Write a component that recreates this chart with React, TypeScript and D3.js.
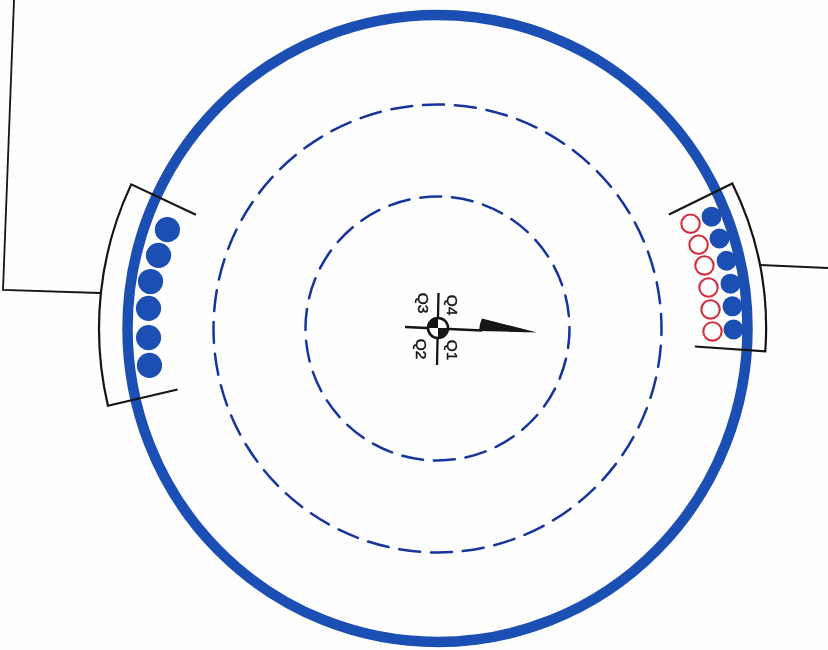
import React from "react";
import * as d3 from "d3";

// Polar readings about the shaft centre: angle in degrees (counter-clockwise from +x), radius in px-sized units
const leftRollerAngles = [159.9, 165.3, 170.7, 176, 181.8, 187.3];
const leftRollerRadii = [287.6, 288.4, 290.8, 289.7, 289.1, 290.4];
const rightFilledAngles = [22.2, 17.7, 13.2, 8.7, 4.3, -0.2];
const rightFilledRadii = [296, 296, 296.9, 296.4, 295.8, 296];
const rightOpenAngles = [22.5, 17.8, 13.3, 8.6, 4.0, -0.6];
const rightOpenRadii = [273.9, 274.2, 274.3, 274.1, 273.7, 275];
const dashedRadii = [132, 224];
const dashedCounts = [26, 44];
const dashedOffsets = [0.045, 0.455];
const quadrantLabels = ["Q1", "Q2", "Q3", "Q4"];
const quadrantAngles = [-56, 232.9, 119.6, 58.3];
const quadrantRadii = [26, 25.7, 29.3, 27.6];
const leftLeader: [number, number][] = [[100, 293], [3, 290], [14, 0]];
const rightLeader: [number, number][] = [[760, 265], [828, 268]];
const pointerShape: [number, number][] = [[479, 331], [480, 324], [482, 318.5], [537, 332.5]];

const BLUE = "#1b50b4";
const NAVY = "#17369c";
const RED = "#d22f3c";
const INK = "#141414";
const PAPER = "#fefefe";
const cx = 437.5;
const cy = 328.5;

const rad = d3.scaleLinear().domain([0, 360]).range([0, 2 * Math.PI]);
const rs = d3.scaleLinear().domain([0, 350]).range([0, 350]);
const polar = (a: number, r: number): [number, number] => [
  cx + rs(r) * Math.cos(rad(a)),
  cy - rs(r) * Math.sin(rad(a)),
];

function bracket(a0: number, a1: number, rIn: number, rOut: number, ccw: boolean) {
  const p = d3.path();
  const [x0, y0] = polar(a0, rIn);
  const [x1, y1] = polar(a0, rOut);
  const [x2, y2] = polar(a1, rIn);
  p.moveTo(x0, y0);
  p.lineTo(x1, y1);
  p.arc(cx, cy, rs(rOut), -rad(a0), -rad(a1), ccw);
  p.lineTo(x2, y2);
  return p.toString();
}

const line = d3.line();

export default function App() {
  const quarter = d3.arc();
  return (
    <svg
      width={828}
      height={650}
      viewBox="0 0 828 650"
      style={{ position: "absolute", left: 0, top: 0, background: PAPER }}
    >
      <defs>
        <filter id="scan" x="-5%" y="-5%" width="110%" height="110%">
          <feGaussianBlur stdDeviation="0.45" />
        </filter>
      </defs>
      <g filter="url(#scan)">
        <ellipse cx={cx} cy={cy} rx={310} ry={313.5} fill="none" stroke={BLUE} strokeWidth={10.5} />
        {dashedRadii.map((r, i) => (
          <circle
            key={r}
            cx={cx}
            cy={cy}
            r={rs(r)}
            fill="none"
            stroke={NAVY}
            strokeWidth={2.5}
            pathLength={dashedCounts[i]}
            strokeDasharray="0.66 0.34"
            strokeDashoffset={dashedOffsets[i]}
            strokeLinecap="round"
          />
        ))}
        {leftRollerAngles.map((a, i) => {
          const [x, y] = polar(a, leftRollerRadii[i]);
          return <circle key={i} cx={x} cy={y} r={12.6} fill={BLUE} />;
        })}
        {rightFilledAngles.map((a, i) => {
          const [x, y] = polar(a, rightFilledRadii[i]);
          return <circle key={i} cx={x} cy={y} r={10} fill={BLUE} />;
        })}
        {rightOpenAngles.map((a, i) => {
          const [x, y] = polar(a, rightOpenRadii[i]);
          return <circle key={i} cx={x} cy={y} r={9.2} fill={PAPER} stroke={RED} strokeWidth={2.1} />;
        })}
        <path d={bracket(154.8, 193.2, 267, 338.5, true)} fill="none" stroke={INK} strokeWidth={2.2} />
        <path d={bracket(26.2, -4, 258, 328.6, false)} fill="none" stroke={INK} strokeWidth={2.2} />
        <path d={line(leftLeader) ?? ""} fill="none" stroke={INK} strokeWidth={1.8} />
        <path d={line(rightLeader) ?? ""} fill="none" stroke={INK} strokeWidth={1.8} />

        <line x1={405} y1={327} x2={482} y2={330.5} stroke={INK} strokeWidth={2.3} />
        <line x1={438.5} y1={293} x2={437} y2={365} stroke={INK} strokeWidth={2.3} />
        <path d={line(pointerShape) + "Z"} fill={INK} />
        <g transform={`translate(438,328)`}>
          <circle r={10} fill={PAPER} stroke={INK} strokeWidth={2.6} />
          <path
            d={quarter({ innerRadius: 0, outerRadius: 10, startAngle: -Math.PI / 2, endAngle: 0 }) ?? ""}
            fill={INK}
          />
          <path
            d={quarter({ innerRadius: 0, outerRadius: 10, startAngle: Math.PI / 2, endAngle: Math.PI }) ?? ""}
            fill={INK}
          />
        </g>
        {quadrantLabels.map((t, i) => {
          const [x, y] = polar(quadrantAngles[i], quadrantRadii[i]);
          return (
            <text
              key={t}
              transform={`translate(${x},${y}) rotate(90)`}
              textAnchor="middle"
              dominantBaseline="central"
              fontFamily="Liberation Sans, Arial, sans-serif"
              fontSize={15.5}
              fill={INK}
              stroke={INK}
              strokeWidth={0.45}
            >
              {t}
            </text>
          );
        })}
      </g>
    </svg>
  );
}
